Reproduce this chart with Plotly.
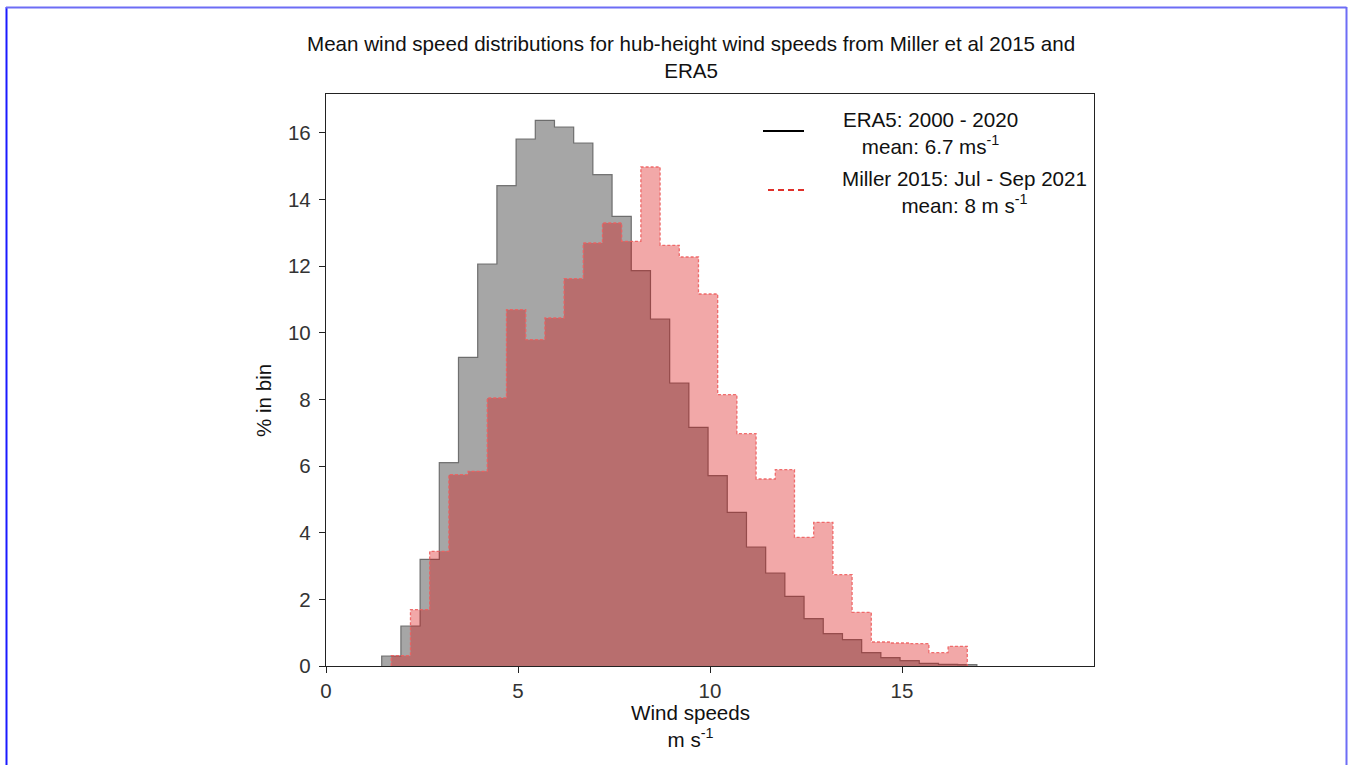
import plotly.graph_objects as go

# ---------------- data ----------------
era5_start = 1.45
era5_width = 0.5
era5_pct = [0.30, 1.20, 3.20, 6.10, 9.26, 12.06, 14.41, 15.81, 16.37, 16.17,
            15.69, 14.74, 13.49, 11.86, 10.41, 8.49, 7.16, 5.71, 4.61, 3.57,
            2.79, 2.09, 1.42, 0.97, 0.79, 0.40, 0.25, 0.16, 0.08, 0.05, 0.04]

miller_start = 1.70
miller_width = 0.5
miller_pct = [0.31, 1.69, 3.44, 5.74, 5.84, 8.04, 10.69, 9.79, 10.44, 11.62,
              12.69, 13.29, 12.74, 14.97, 12.62, 12.27, 11.16, 8.14, 6.97, 5.61,
              5.89, 3.86, 4.31, 2.74, 1.61, 0.72, 0.69, 0.67, 0.40, 0.59]

x_ticks = [0, 5, 10, 15]
y_ticks = [0, 2, 4, 6, 8, 10, 12, 14, 16]

title_text = ("Mean wind speed distributions for hub-height wind speeds from Miller et al 2015 and"
              "<br>ERA5")
legend_era5 = "ERA5: 2000 - 2020<br>mean: 6.7 ms<sup>-1</sup>"
legend_miller = "Miller 2015: Jul - Sep 2021<br>mean: 8 m s<sup>-1</sup>"

# ---------------- layout geometry ----------------
W, H = 1349, 765
L, R, T, B = 326, 255, 94, 99
PW, PH = W - L - R, H - T - B


def px(xp):
    return (xp - L) / PW


def py(yp):
    return (H - B - yp) / PH


def step_xy(start, width, vals):
    edges = [start + i * width for i in range(len(vals) + 1)]
    xs = [edges[0]] + edges + [edges[-1]]
    ys = [0] + list(vals) + [vals[-1], 0]
    return xs, ys


FONT = "Liberation Sans, Arial, Helvetica, sans-serif"
FS = 20.6

fig = go.Figure()

gx, gy = step_xy(era5_start, era5_width, era5_pct)
fig.add_trace(go.Scatter(
    x=gx, y=gy, mode="lines", line=dict(shape="hv", color="rgba(95,95,95,0.85)", width=1.2),
    fill="tozeroy", fillcolor="rgba(128,128,128,0.70)", showlegend=False, hoverinfo="skip"))

rx, ry = step_xy(miller_start, miller_width, miller_pct)
fig.add_trace(go.Scatter(
    x=rx, y=ry, mode="lines",
    line=dict(shape="hv", color="rgba(238,95,95,0.9)", width=1.3, dash="3px,2px"),
    fill="tozeroy", fillcolor="rgba(218,5,5,0.35)", showlegend=False, hoverinfo="skip"))

axis_common = dict(showgrid=False, zeroline=False, showline=True, linecolor="#222",
                   linewidth=1.3, mirror=True, ticks="outside", ticklen=6, tickwidth=1.2,
                   tickcolor="#222", tickfont=dict(family=FONT, size=20.5, color="#333"))

fig.update_xaxes(range=[0, 20], tickvals=x_ticks, ticktext=[str(v) for v in x_ticks], **axis_common)
fig.update_yaxes(range=[0, 17.16], tickvals=y_ticks, ticktext=[str(v) for v in y_ticks],
                 ticklabelstandoff=4, **axis_common)

annotations = [
    dict(text=title_text, x=px(691), y=py(57), xref="paper", yref="paper",
         showarrow=False, align="center", xanchor="center", yanchor="middle",
         font=dict(family=FONT, size=FS, color="#111")),
    dict(text="Wind speeds<br>m s<sup>-1</sup>", x=px(690), y=py(726), xref="paper", yref="paper",
         showarrow=False, align="center", xanchor="center", yanchor="middle",
         font=dict(family=FONT, size=FS, color="#111")),
    dict(text="% in bin", x=px(263), y=py(401), xref="paper", yref="paper", textangle=-90,
         showarrow=False, xanchor="center", yanchor="middle",
         font=dict(family=FONT, size=FS, color="#111")),
    dict(text=legend_era5, x=px(930), y=py(133), xref="paper", yref="paper",
         showarrow=False, align="center", xanchor="center", yanchor="middle",
         font=dict(family=FONT, size=FS, color="#111")),
    dict(text=legend_miller, x=px(964), y=py(192), xref="paper", yref="paper",
         showarrow=False, align="center", xanchor="center", yanchor="middle",
         font=dict(family=FONT, size=FS, color="#111")),
]

shapes = [
    dict(type="line", xref="paper", yref="paper", x0=px(763), x1=px(804), y0=py(131), y1=py(131),
         line=dict(color="#000", width=2.2)),
    dict(type="line", xref="paper", yref="paper", x0=px(768), x1=px(807), y0=py(190), y1=py(190),
         line=dict(color="#e0302a", width=2.2, dash="6px,4px")),
    # page frame
    dict(type="line", xref="paper", yref="paper", x0=px(6.5), x1=px(6.5), y0=py(7), y1=py(800),
         line=dict(color="#1a1aff", width=2)),
    dict(type="line", xref="paper", yref="paper", x0=px(6), x1=px(1346.5), y0=py(7.5), y1=py(7.5),
         line=dict(color="#6d6df5", width=2)),
    dict(type="line", xref="paper", yref="paper", x0=px(1346.5), x1=px(1346.5), y0=py(7), y1=py(800),
         line=dict(color="#6d6df5", width=2)),
]

fig.update_layout(
    width=W, height=H, margin=dict(l=L, r=R, t=T, b=B, autoexpand=False),
    paper_bgcolor="white", plot_bgcolor="white",
    font=dict(family=FONT, size=FS, color="#111"),
    annotations=annotations, shapes=shapes, showlegend=False,
)

fig.write_html("out.html", config={"displayModeBar": False},
               post_script="document.body.style.margin='0';document.body.style.overflow='hidden';")
